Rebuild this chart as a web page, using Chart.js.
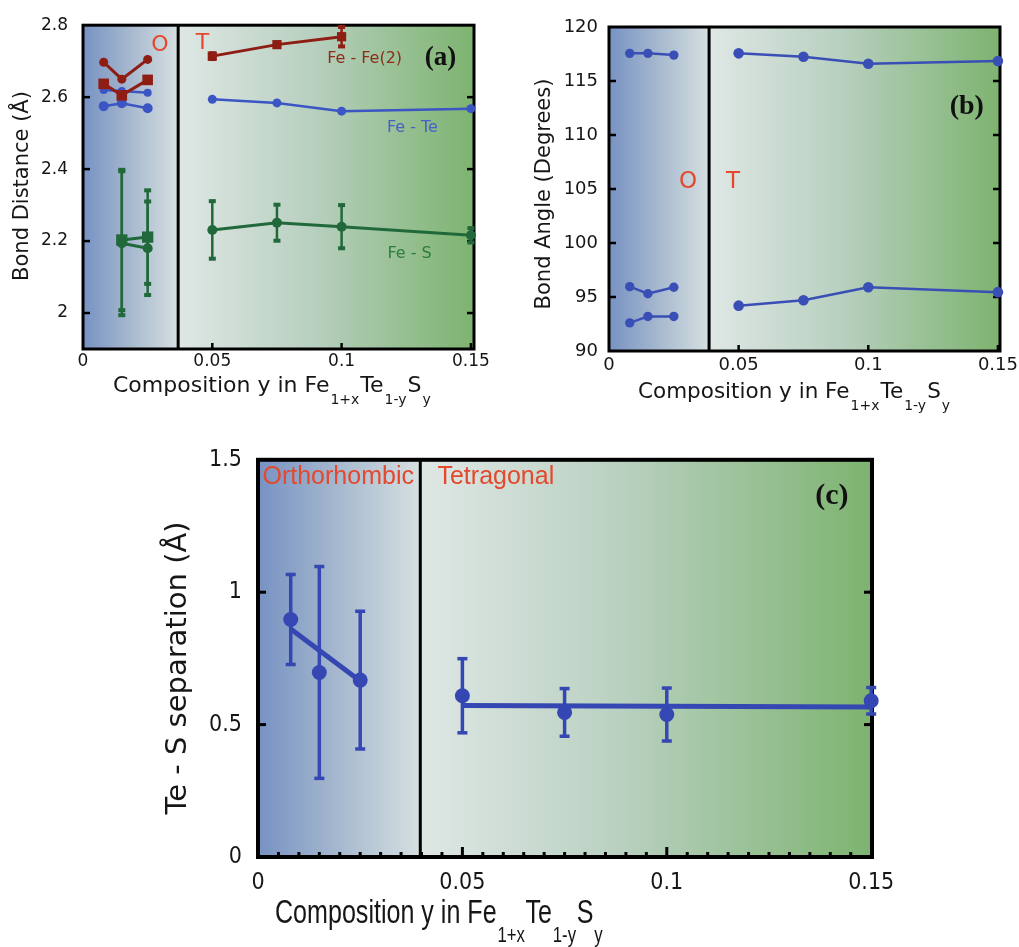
<!DOCTYPE html>
<html>
<head>
<meta charset="utf-8">
<script src="https://cdn.jsdelivr.net/npm/chart.js@4.4.1/dist/chart.umd.min.js"></script>
<style>
  html, body { margin: 0; padding: 0; background: #fff; }
  #page { position: relative; width: 1019px; height: 947px; overflow: hidden; background: #fff; }
  #page canvas { position: absolute; }
</style>
</head>
<body>
<div id="page">
  <canvas id="chartA" width="515" height="415" style="left:0px;top:0px"></canvas>
  <canvas id="chartB" width="520" height="415" style="left:520px;top:0px"></canvas>
  <canvas id="chartC" width="780" height="517" style="left:140px;top:430px"></canvas>
</div>
<script>
// ---------- composition values y ----------
const yOrtho      = [0.008, 0.015, 0.025];
const yOrthoS     = [0.015, 0.025];
const yTetra      = [0.05, 0.075, 0.1, 0.15];
const yTetraFeFe  = [0.05, 0.075, 0.1];

// ---------- (a) bond distances (Å) ----------
const feFe2OrthoCirc  = [2.697, 2.650, 2.705];
const feFe2OrthoSq    = [2.637, 2.605, 2.648];
const feFe2Tetra      = [2.714, 2.746, 2.768];
const feFe2TetraErr   = [0.008, 0.004, 0.027];
const feTeOrthoUpper  = [2.620, 2.617, 2.612];
const feTeOrthoLower  = [2.575, 2.583, 2.569];
const feTeTetra       = [2.594, 2.584, 2.561, 2.568];
const feSOrthoCirc    = [2.194, 2.180];
const feSOrthoCircErr = [0.200, 0.130];
const feSOrthoSq      = [2.203, 2.211];
const feSOrthoSqErr   = [0.195, 0.130];
const feSTetra        = [2.231, 2.251, 2.240, 2.216];
const feSTetraErr     = [0.080, 0.050, 0.060, 0.020];

// ---------- (b) bond angles (degrees) ----------
const angOrthoHigh = [117.56, 117.56, 117.40];
const angOrthoMid  = [95.96, 95.30, 95.90];
const angOrthoLow  = [92.60, 93.20, 93.20];
const angTetraHigh = [117.56, 117.25, 116.60, 116.85];
const angTetraLow  = [94.20, 94.70, 95.90, 95.45];

// ---------- (c) Te - S separation (Å) ----------
const sepOrtho     = [0.897, 0.697, 0.668];
const sepOrthoErr  = [0.170, 0.400, 0.260];
const sepTetra     = [0.609, 0.546, 0.538, 0.590];
const sepTetraErr  = [0.140, 0.090, 0.100, 0.050];
const sepOrthoFitX = [0.008, 0.025];
const sepOrthoFit  = [0.861, 0.665];
const sepTetraFitX = [0.05, 0.15];
const sepTetraFit  = [0.572, 0.566];

// ---------- tick values ----------
const compTicks  = [0, 0.05, 0.1, 0.15];
const distTicks  = [2, 2.2, 2.4, 2.6, 2.8];
const angleTicks = [90, 95, 100, 105, 110, 115, 120];
const sepTicks   = [0, 0.5, 1, 1.5];

// ---------- axis titles ----------
const compTitleParts = [['Composition y in Fe', '1+x'], ['Te', '1-y'], ['S', 'y']];
const distTitle  = 'Bond Distance (Å)';
const angleTitle = 'Bond Angle (Degrees)';
const sepTitle   = 'Te - S separation (Å)';

// ---------- colours ----------
const RED_DARK = '#8e1d14';
const BLUE     = '#3b55c4';
const BLUE_B   = '#3a4fb6';
const BLUE_C   = '#3447b2';
const GREEN    = '#21693a';
const PHASE    = '#e4482d';
const INK      = '#161616';

const SANS   = '"DejaVu Sans", "Liberation Sans", sans-serif';
const COND   = '"DejaVu Sans Condensed", "DejaVu Sans", sans-serif';
const ARIAL  = '"Liberation Sans", Arial, sans-serif';
const SERIF  = '"Liberation Serif", "Times New Roman", serif';

function pts(xs, ys) { return xs.map((x, i) => ({ x: x, y: ys[i] })); }

function series(xs, ys, color, extra) {
  return Object.assign({
    data: pts(xs, ys),
    borderColor: color,
    backgroundColor: color,
    pointBackgroundColor: color,
    pointBorderColor: color,
    pointBorderWidth: 0,
    showLine: true,
    borderWidth: 2.5,
    pointRadius: 4,
    pointHoverRadius: 4,
    pointStyle: 'circle',
    tension: 0,
    clip: false
  }, extra || {});
}

function line(ctx, x1, y1, x2, y2) {
  ctx.beginPath(); ctx.moveTo(x1, y1); ctx.lineTo(x2, y2); ctx.stroke();
}

// background, phase boundary, frame, inward ticks, error bars, labels, titles
function panelPlugin(cfg) {
  return {
    id: 'panel',
    beforeDatasetsDraw(chart) {
      const { ctx, chartArea: a, scales: { x, y } } = chart;
      const bx = x.getPixelForValue(cfg.boundary);
      ctx.save();
      let g = ctx.createLinearGradient(a.left, 0, bx, 0);
      g.addColorStop(0, '#7792c3');
      g.addColorStop(0.45, '#a2b5cd');
      g.addColorStop(1, '#d6e0e1');
      ctx.fillStyle = g;
      ctx.fillRect(a.left, a.top, bx - a.left, a.bottom - a.top);
      g = ctx.createLinearGradient(bx, 0, a.right, 0);
      g.addColorStop(0, '#dfe7e5');
      g.addColorStop(0.45, '#b8d0c0');
      g.addColorStop(1, '#7db36f');
      ctx.fillStyle = g;
      ctx.fillRect(bx, a.top, a.right - bx, a.bottom - a.top);

      ctx.strokeStyle = '#000';
      ctx.lineWidth = cfg.dividerWidth;
      line(ctx, bx, a.top, bx, a.bottom);

      // frame
      ctx.lineWidth = cfg.frameWidth;
      ctx.strokeRect(a.left, a.top, a.right - a.left, a.bottom - a.top);

      // inward ticks
      ctx.lineWidth = cfg.tickWidth;
      cfg.xMajor.forEach(v => {
        const px = x.getPixelForValue(v);
        line(ctx, px, a.bottom, px, a.bottom - cfg.xTickLen);
      });
      (cfg.xMinor || []).forEach(v => {
        const px = x.getPixelForValue(v);
        line(ctx, px, a.bottom, px, a.bottom - cfg.xMinorLen);
      });
      cfg.yMajor.forEach(v => {
        const py = y.getPixelForValue(v);
        line(ctx, a.left, py, a.left + cfg.yTickLen, py);
        line(ctx, a.right, py, a.right - cfg.yTickLen, py);
      });

      // error bars
      chart.data.datasets.forEach(ds => {
        if (!ds.errorBars) return;
        ctx.strokeStyle = ds.borderColor;
        ctx.fillStyle = ds.borderColor;
        ctx.lineWidth = cfg.errWidth;
        ds.data.forEach((p, i) => {
          const e = ds.errorBars[i];
          if (!e) return;
          const px = x.getPixelForValue(p.x);
          const top = y.getPixelForValue(p.y + e);
          const bot = y.getPixelForValue(p.y - e);
          line(ctx, px, top, px, bot);
          ctx.fillRect(px - cfg.capW / 2, top - cfg.capH / 2, cfg.capW, cfg.capH);
          ctx.fillRect(px - cfg.capW / 2, bot - cfg.capH / 2, cfg.capW, cfg.capH);
        });
      });
      ctx.restore();
    },
    afterDraw(chart) {
      const { ctx, scales: { x, y } } = chart;
      ctx.save();
      // annotations placed in data coordinates
      cfg.notes.forEach(n => {
        ctx.font = n.font;
        ctx.fillStyle = n.color;
        ctx.textAlign = n.align || 'center';
        ctx.textBaseline = 'middle';
        ctx.fillText(n.text, x.getPixelForValue(n.x), y.getPixelForValue(n.y));
      });
      // y title
      ctx.save();
      ctx.translate(cfg.yTitle.cx, cfg.yTitle.cy);
      ctx.rotate(-Math.PI / 2);
      ctx.font = cfg.yTitle.font;
      ctx.fillStyle = INK;
      ctx.textAlign = 'center';
      ctx.textBaseline = 'middle';
      ctx.fillText(cfg.yTitle.text, 0, 0);
      ctx.restore();
      // x title with subscripts (optionally condensed horizontally)
      const t = cfg.xTitle;
      ctx.save();
      ctx.translate(t.x, t.base);
      ctx.scale(t.scaleX || 1, 1);
      let cx = 0;
      ctx.fillStyle = INK;
      ctx.textAlign = 'left';
      ctx.textBaseline = 'alphabetic';
      t.parts.forEach(([main, sub]) => {
        ctx.font = t.font;
        ctx.fillText(main, cx, 0);
        cx += ctx.measureText(main).width + t.gap;
        ctx.font = t.subFont;
        ctx.fillText(sub, cx, t.drop);
        cx += ctx.measureText(sub).width + t.gap;
      });
      ctx.restore();
      ctx.restore();
    }
  };
}

function makeChart(id, datasets, cfg) {
  const fmt = v => String(v);
  return new Chart(document.getElementById(id), {
    type: 'scatter',
    data: { datasets: datasets },
    options: {
      responsive: false,
      animation: false,
      devicePixelRatio: 1,
      events: [],
      layout: { padding: cfg.padding },
      plugins: { legend: { display: false }, tooltip: { enabled: false } },
      scales: {
        x: {
          type: 'linear', min: cfg.xMin, max: cfg.xMax,
          afterBuildTicks: s => { s.ticks = cfg.xTicks.map(v => ({ value: v })); },
          afterFit: s => { s.height = cfg.xAxisH; },
          grid: { display: false, drawTicks: false },
          border: { display: false },
          ticks: { color: INK, font: cfg.tickFont, padding: cfg.xPad, maxRotation: 0, autoSkip: false, callback: fmt }
        },
        y: {
          type: 'linear', min: cfg.yMin, max: cfg.yMax,
          afterBuildTicks: s => { s.ticks = cfg.yTicks.map(v => ({ value: v })); },
          afterFit: s => { s.width = cfg.yAxisW; },
          grid: { display: false, drawTicks: false },
          border: { display: false },
          ticks: { color: INK, font: cfg.tickFont, padding: cfg.yPad, autoSkip: false, callback: fmt }
        }
      }
    },
    plugins: [panelPlugin(cfg)]
  });
}

// ================= (a) bond distances =================
makeChart('chartA', [
  series(yOrtho, feFe2OrthoCirc, RED_DARK, { borderWidth: 3, pointRadius: 4.5 }),
  series(yOrtho, feFe2OrthoSq, RED_DARK, { borderWidth: 3, pointStyle: 'rect', pointRadius: 7.5 }),
  series(yTetraFeFe, feFe2Tetra, RED_DARK, { borderWidth: 3, pointStyle: 'rect', pointRadius: 6.5, errorBars: feFe2TetraErr }),
  series(yOrtho, feTeOrthoUpper, BLUE, { pointRadius: 4 }),
  series(yOrtho, feTeOrthoLower, BLUE, { pointRadius: 5 }),
  series(yTetra, feTeTetra, BLUE, { pointRadius: 4.5 }),
  series(yOrthoS, feSOrthoCirc, GREEN, { borderWidth: 3, pointRadius: 5, errorBars: feSOrthoCircErr }),
  series(yOrthoS, feSOrthoSq, GREEN, { borderWidth: 3, pointStyle: 'rect', pointRadius: 8, errorBars: feSOrthoSqErr }),
  series(yTetra, feSTetra, GREEN, { borderWidth: 3, pointRadius: 5, errorBars: feSTetraErr })
], {
  padding: { left: 23, right: 41, top: 25, bottom: 36 },
  yAxisW: 60, xAxisH: 30,
  xMin: 0, xMax: 0.1512, yMin: 1.9, yMax: 2.8,
  xTicks: compTicks, yTicks: distTicks,
  tickFont: { family: SANS, size: 17 }, xPad: 2, yPad: 15,
  boundary: 0.0368, dividerWidth: 3, frameWidth: 3, tickWidth: 2.5,
  xMajor: [0.05, 0.1, 0.15], xTickLen: 6, yMajor: [2, 2.2, 2.4, 2.6], yTickLen: 7,
  errWidth: 2.5, capW: 7, capH: 4,
  notes: [
    { text: 'O', x: 0.0297, y: 2.744, font: '22px ' + SANS, color: PHASE },
    { text: 'T', x: 0.0462, y: 2.750, font: '22px ' + SANS, color: PHASE },
    { text: 'Fe - Fe(2)', x: 0.1089, y: 2.706, font: '16px ' + SANS, color: '#8e2c18' },
    { text: '(a)', x: 0.1382, y: 2.708, font: 'bold 27px ' + SERIF, color: '#111' },
    { text: 'Fe - Te', x: 0.1274, y: 2.514, font: '16px ' + SANS, color: '#4462c8' },
    { text: 'Fe - S', x: 0.1263, y: 2.164, font: '16px ' + SANS, color: '#2d7c40' }
  ],
  yTitle: { text: distTitle, cx: 23, cy: 186, font: '21px ' + SANS },
  xTitle: { parts: compTitleParts, x: 113, base: 392, font: '22px ' + SANS, subFont: '14px ' + SANS, drop: 12, gap: 1 }
});

// ================= (b) bond angles =================
makeChart('chartB', [
  series(yOrtho, angOrthoHigh, BLUE_B, { pointRadius: 4.7 }),
  series(yOrtho, angOrthoMid, BLUE_B, { pointRadius: 4.7 }),
  series(yOrtho, angOrthoLow, BLUE_B, { pointRadius: 4.7 }),
  series(yTetra, angTetraHigh, BLUE_B, { pointRadius: 5.3 }),
  series(yTetra, angTetraLow, BLUE_B, { pointRadius: 5.3 })
], {
  padding: { left: 29, right: 40, top: 27, bottom: 34 },
  yAxisW: 60, xAxisH: 30,
  xMin: 0, xMax: 0.1508, yMin: 90, yMax: 120,
  xTicks: compTicks, yTicks: angleTicks,
  tickFont: { family: SANS, size: 18 }, xPad: 4, yPad: 11,
  boundary: 0.0386, dividerWidth: 3, frameWidth: 3, tickWidth: 2.5,
  xMajor: [0.05, 0.1, 0.15], xTickLen: 6, yMajor: [95, 100, 105, 110, 115], yTickLen: 7,
  errWidth: 2, capW: 6, capH: 3,
  notes: [
    { text: '(b)', x: 0.1380, y: 112.6, font: 'bold 28px ' + SERIF, color: '#111' },
    { text: 'O', x: 0.0305, y: 105.65, font: '23px ' + SANS, color: PHASE },
    { text: 'T', x: 0.0478, y: 105.65, font: '23px ' + SANS, color: PHASE }
  ],
  yTitle: { text: angleTitle, cx: 25, cy: 194, font: '21px ' + SANS },
  xTitle: { parts: compTitleParts, x: 118, base: 398, font: '21.5px ' + SANS, subFont: '14px ' + SANS, drop: 12, gap: 1 }
});

// ================= (c) Te - S separation =================
const sepMinor = [];
for (let k = 1; k < 30; k++) { if (k % 10 !== 0) sepMinor.push(k * 0.005); }

makeChart('chartC', [
  series(yOrtho, sepOrtho, BLUE_C, { showLine: false, pointRadius: 7.5, errorBars: sepOrthoErr }),
  series(yTetra, sepTetra, BLUE_C, { showLine: false, pointRadius: 7.5, errorBars: sepTetraErr }),
  series(sepOrthoFitX, sepOrthoFit, BLUE_C, { borderWidth: 5, pointRadius: 0 }),
  series(sepTetraFitX, sepTetraFit, BLUE_C, { borderWidth: 5, pointRadius: 0 })
], {
  padding: { left: 38, right: 48, top: 28, bottom: 50 },
  yAxisW: 80, xAxisH: 40,
  xMin: 0, xMax: 0.1502, yMin: 0, yMax: 1.5,
  xTicks: compTicks, yTicks: sepTicks,
  tickFont: { family: COND, size: 23 }, xPad: 12, yPad: 16,
  boundary: 0.0397, dividerWidth: 3, frameWidth: 4, tickWidth: 3,
  xMajor: [0.05, 0.1], xTickLen: 10, xMinor: sepMinor, xMinorLen: 5,
  yMajor: [0.5, 1], yTickLen: 8,
  errWidth: 3.5, capW: 10, capH: 3.5,
  notes: [
    { text: 'Orthorhombic', x: 0.0011, y: 1.436, font: '25px ' + ARIAL, color: PHASE, align: 'left' },
    { text: 'Tetragonal', x: 0.0439, y: 1.436, font: '25px ' + ARIAL, color: PHASE, align: 'left' },
    { text: '(c)', x: 0.1404, y: 1.361, font: 'bold 30px ' + SERIF, color: '#111' }
  ],
  yTitle: { text: sepTitle, cx: 38, cy: 238, font: '29px ' + SANS },
  xTitle: { parts: compTitleParts, x: 135, base: 493, font: '33px ' + ARIAL, subFont: '22px ' + ARIAL, drop: 19, gap: 1, scaleX: 0.76 }
});
</script>
</body>
</html>
